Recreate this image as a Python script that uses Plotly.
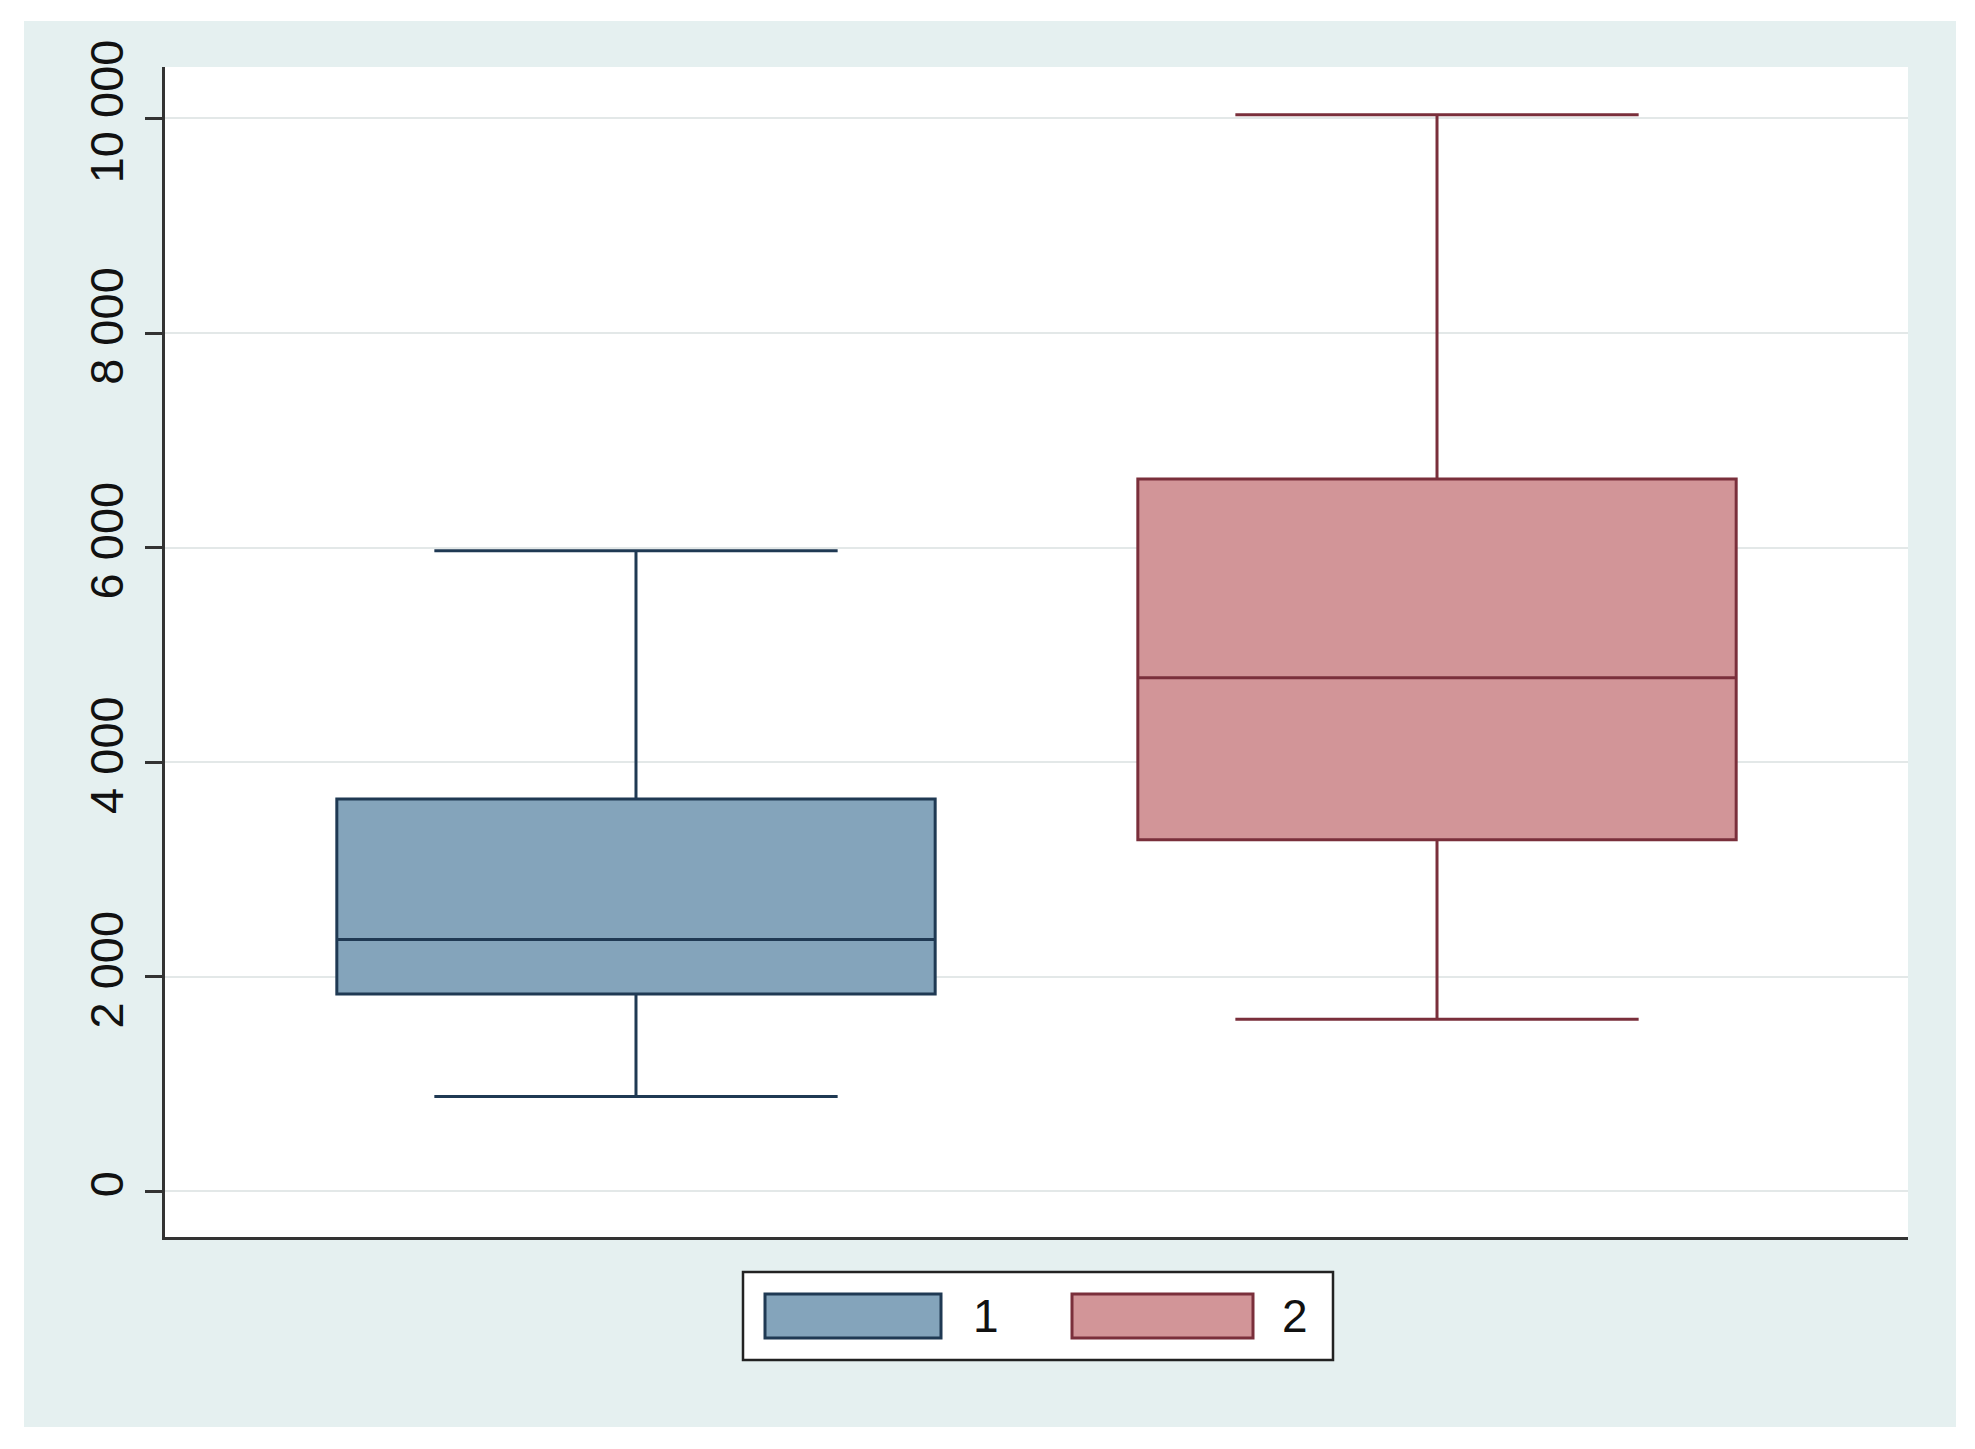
import plotly.graph_objects as go

# ---- data ----
groups = ["1", "2"]
positions = [0, 1]
lower_whisker = [884, 1604]
q1_values = [1840, 3278]
medians = [2347, 4788]
q3_values = [3656, 6639]
upper_whisker = [5970, 10035]
y_ticks = [0, 2000, 4000, 6000, 8000, 10000]

fills = ["#84a4bb", "#d29598"]
edges = ["#1f3953", "#7a2f3b"]

OFF = 8  # default page body margin
W, H = 1975 - OFF, 1449 - OFF
L, T = 165 - OFF, 67 - OFF
R = 1975 - 1908
B = 1449 - 1237

pw = W - L - R
ph = H - T - B

def px_to_paper_x(x):
    return (x - OFF - L) / pw

def px_to_paper_y(y):
    return 1 - (y - OFF - T) / ph

fig = go.Figure()
for i, g in enumerate(groups):
    fig.add_trace(go.Box(
        name=g,
        x=[positions[i]],
        q1=[q1_values[i]],
        median=[medians[i]],
        q3=[q3_values[i]],
        lowerfence=[lower_whisker[i]],
        upperfence=[upper_whisker[i]],
        width=0.747,
        whiskerwidth=0.674,
        fillcolor=fills[i],
        line=dict(color=edges[i], width=3),
        boxpoints=False,
        showlegend=False,
    ))

shapes = []
# outer light panel
shapes.append(dict(type="rect", xref="paper", yref="paper", layer="below",
                   x0=px_to_paper_x(24), x1=px_to_paper_x(1956),
                   y0=px_to_paper_y(1427), y1=px_to_paper_y(21),
                   fillcolor="#e5f0f0", line=dict(width=0)))
# white plot region
shapes.append(dict(type="rect", xref="paper", yref="paper", layer="below",
                   x0=0, x1=1, y0=0, y1=1,
                   fillcolor="white", line=dict(width=0)))
# legend frame
shapes.append(dict(type="rect", xref="paper", yref="paper",
                   x0=px_to_paper_x(743), x1=px_to_paper_x(1333),
                   y0=px_to_paper_y(1360), y1=px_to_paper_y(1272),
                   fillcolor="white", line=dict(color="#222222", width=2.5)))
legend_swatches = [(765, 941, 986), (1072, 1253, 1295)]
annotations = []
for i, (sx0, sx1, tx) in enumerate(legend_swatches):
    shapes.append(dict(type="rect", xref="paper", yref="paper",
                       x0=px_to_paper_x(sx0), x1=px_to_paper_x(sx1),
                       y0=px_to_paper_y(1338), y1=px_to_paper_y(1294),
                       fillcolor=fills[i], line=dict(color=edges[i], width=3)))
    annotations.append(dict(xref="paper", yref="paper",
                            x=px_to_paper_x(tx), y=px_to_paper_y(1316),
                            text=groups[i], showarrow=False,
                            font=dict(size=46, color="#111111",
                                      family="Liberation Sans, Arial, sans-serif"),
                            xanchor="center", yanchor="middle"))

fig.update_layout(
    width=W, height=H,
    margin=dict(l=L, r=R, t=T, b=B, pad=0),
    paper_bgcolor="white",
    plot_bgcolor="white",
    boxmode="overlay",
    showlegend=False,
    separators=". ",
    font=dict(family="Liberation Sans, Arial, sans-serif", size=46, color="#111111"),
    shapes=shapes,
    annotations=annotations,
    xaxis=dict(range=[-0.588, 1.588], showticklabels=False, ticks="",
               showgrid=False, zeroline=False, showline=True,
               linecolor="#333333", linewidth=2.5),
    yaxis=dict(range=[-426, 10480], tickvals=y_ticks, tickformat=",d",
               tickangle=-90, ticks="outside", ticklen=17, tickwidth=2.5,
               tickcolor="#333333", showline=True, linecolor="#333333",
               linewidth=2.5, showgrid=True, gridcolor="#e3e8e8", gridwidth=2,
               zeroline=False, ticklabelstandoff=3,
               tickfont=dict(size=47, color="#111111")),
)

fig.write_html("out.html")
